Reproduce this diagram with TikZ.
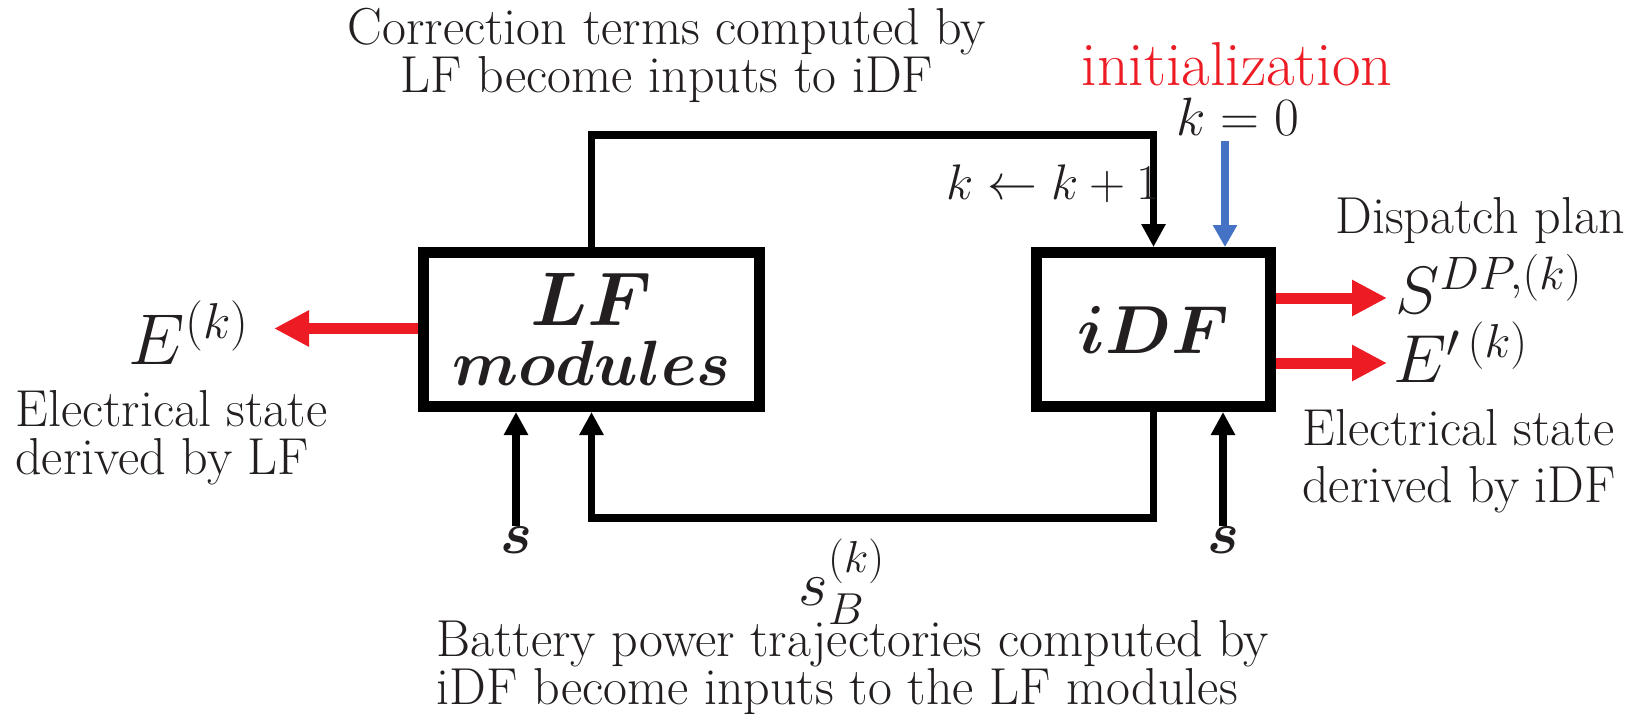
\RequirePackage{fix-cm}
\documentclass[tikz,border=0pt]{standalone}
\usepackage{amsmath,amssymb}
\usetikzlibrary{arrows.meta,calc}
\definecolor{ink}{RGB}{35,31,32}
\definecolor{arrred}{RGB}{237,28,36}
\definecolor{arrblue}{RGB}{68,114,196}
\begin{document}
\begin{tikzpicture}[x=0.5pt,y=-0.5pt,
  txt/.style={inner sep=0pt, text=ink, font=\fontsize{26}{24}\selectfont},
  blockbox/.style={draw=black, line width=5.5pt, inner sep=0pt, text=ink, align=center},
  blk/.style={draw=black, line width=3.75pt, -{Triangle[length=11.5pt,width=11.5pt]}},
  redarr/.style={draw=arrred, line width=5.5pt, -{Triangle[length=17.5pt,width=17pt]}},
  bluearr/.style={draw=arrblue, line width=4pt, -{Triangle[length=11pt,width=11.5pt]}}
]
\useasboundingbox (0,0) rectangle (1650,713);

% blocks
\node[blockbox, minimum width=168pt, minimum height=77pt, font=\fontsize{32}{34}\selectfont] (lf) at (591.5,329.5) {{\fontsize{38}{38}\selectfont$\boldsymbol{LF}$}\\[-4pt]$\boldsymbol{modules}$};
\node[blockbox, minimum width=117pt, minimum height=77pt, font=\fontsize{34}{34}\selectfont] (idf) at (1153.5,329.5) {$\boldsymbol{iDF}$};

% top feedback
\coordinate (toploop) at (591.5,135);
\draw[blk] (lf.north) -- (lf.north |- toploop) -| (idf.north);
\node[txt, anchor=east, font=\fontsize{25}{25}\selectfont] (kinc) at (1160,184) {$k \leftarrow k+1$};
\node[txt, align=center] (corr) at (667,55) {Correction terms computed by\\LF become inputs to iDF};

% initialization
\node[txt, text=arrred, font=\fontsize{31}{31}\selectfont] (init) at (1237,64) {initialization};
\node[txt, font=\fontsize{27}{27}\selectfont] (kzero) at (1238,117) {$k=0$};
\coordinate (bluestart) at (1225,141);
\draw[bluearr] (bluestart) -- (bluestart |- idf.north);

% bottom feedback
\coordinate (botloop) at (1153.5,518);
\draw[blk] (idf.south) -- (idf.south |- botloop) -| (lf.south);
\node[txt, font=\fontsize{32}{32}\selectfont] (sB) at (842,582) {$s_B^{(k)}$};
\node[txt, align=left, anchor=west] (batt) at (436,668) {Battery power trajectories computed by\\iDF become inputs to the LF modules};

% s inputs
\node[txt, font=\fontsize{30}{30}\selectfont] (s1) at (516,540) {$\boldsymbol{s}$};
\node[txt, font=\fontsize{30}{30}\selectfont] (s2) at (1223,540) {$\boldsymbol{s}$};
\draw[blk] (s1.north) -- (s1.north |- lf.south);
\draw[blk] (s2.north) -- (s2.north |- idf.south);

% left output
\node[txt, font=\fontsize{36}{36}\selectfont] (Ek) at (189,333) {$E^{(k)}$};
\coordinate (lftip) at (274,328.5);
\draw[redarr] (lf.west |- lftip) -- (lftip);
\node[txt, align=left, anchor=west] (estlf) at (15,438) {Electrical state\\derived by LF};

% right outputs
\node[txt, anchor=west] (disp) at (1335,221) {Dispatch plan};
\coordinate (rtipa) at (1387,298);
\coordinate (rtipb) at (1387,363);
\draw[redarr] (idf.east |- rtipa) -- (rtipa);
\draw[redarr] (idf.east |- rtipb) -- (rtipb);
\node[txt, anchor=west, font=\fontsize{33.5}{33.5}\selectfont] (SDP) at (1395,284) {$S^{DP,(k)}$};
\node[txt, anchor=west, font=\fontsize{34}{34}\selectfont] (Ep) at (1393,352) {$E^{\prime\,(k)}$};
\node[txt, align=left, anchor=west, font=\fontsize{26}{28.5}\selectfont] (estidf) at (1302,461) {Electrical state\\derived by iDF};
\end{tikzpicture}
\end{document}
